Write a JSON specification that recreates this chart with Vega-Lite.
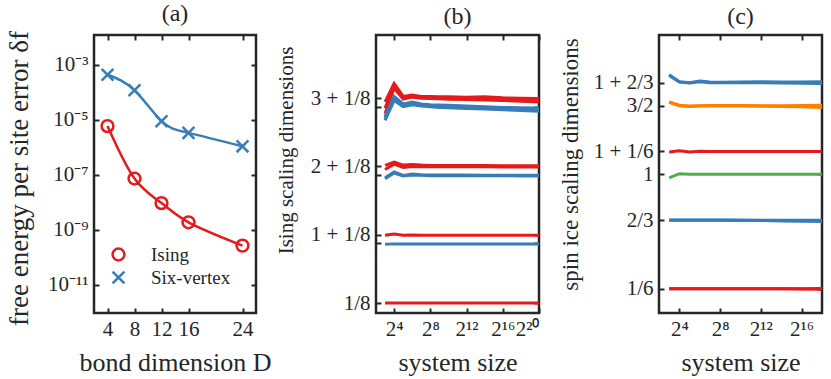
{
  "$schema": "https://vega.github.io/schema/vega-lite/v6.json",
  "padding": {"left": 4, "top": 0, "right": 0, "bottom": 0},
  "background": "white",
  "datasets": {
    "fe": [
      {"model": "Ising", "D": 4, "err": 6.0e-6},
      {"model": "Ising", "D": 8, "err": 7.4e-8},
      {"model": "Ising", "D": 12, "err": 9.5e-9},
      {"model": "Ising", "D": 16, "err": 1.9e-9},
      {"model": "Ising", "D": 24, "err": 2.7e-10},
      {"model": "Six-vertex", "D": 4, "err": 4.4e-4},
      {"model": "Six-vertex", "D": 8, "err": 1.2e-4},
      {"model": "Six-vertex", "D": 12, "err": 9.0e-6},
      {"model": "Six-vertex", "D": 16, "err": 3.4e-6},
      {"model": "Six-vertex", "D": 24, "err": 1.1e-6}
    ],
    "ising": [
      {"s":"r3a","c":"r","L":8,"v":3.07},{"s":"r3a","c":"r","L":16,"v":3.34},{"s":"r3a","c":"r","L":32,"v":3.15},{"s":"r3a","c":"r","L":64,"v":3.17},{"s":"r3a","c":"r","L":128,"v":3.15},{"s":"r3a","c":"r","L":256,"v":3.15},{"s":"r3a","c":"r","L":512,"v":3.145},{"s":"r3a","c":"r","L":1024,"v":3.145},{"s":"r3a","c":"r","L":4096,"v":3.14},{"s":"r3a","c":"r","L":16384,"v":3.145},{"s":"r3a","c":"r","L":65536,"v":3.13},{"s":"r3a","c":"r","L":262144,"v":3.125},{"s":"r3a","c":"r","L":1048576,"v":3.12},
      {"s":"r3b","c":"r","L":8,"v":2.98},{"s":"r3b","c":"r","L":16,"v":3.30},{"s":"r3b","c":"r","L":32,"v":3.13},{"s":"r3b","c":"r","L":64,"v":3.155},{"s":"r3b","c":"r","L":128,"v":3.14},{"s":"r3b","c":"r","L":256,"v":3.135},{"s":"r3b","c":"r","L":512,"v":3.13},{"s":"r3b","c":"r","L":1024,"v":3.13},{"s":"r3b","c":"r","L":4096,"v":3.125},{"s":"r3b","c":"r","L":16384,"v":3.12},{"s":"r3b","c":"r","L":65536,"v":3.11},{"s":"r3b","c":"r","L":262144,"v":3.10},{"s":"r3b","c":"r","L":1048576,"v":3.095},
      {"s":"r3c","c":"r","L":8,"v":2.90},{"s":"r3c","c":"r","L":16,"v":3.27},{"s":"r3c","c":"r","L":32,"v":3.11},{"s":"r3c","c":"r","L":64,"v":3.14},{"s":"r3c","c":"r","L":128,"v":3.125},{"s":"r3c","c":"r","L":256,"v":3.12},{"s":"r3c","c":"r","L":512,"v":3.115},{"s":"r3c","c":"r","L":1024,"v":3.11},{"s":"r3c","c":"r","L":4096,"v":3.105},{"s":"r3c","c":"r","L":16384,"v":3.10},{"s":"r3c","c":"r","L":65536,"v":3.09},{"s":"r3c","c":"r","L":262144,"v":3.08},{"s":"r3c","c":"r","L":1048576,"v":3.07},
      {"s":"b3a","c":"b","L":8,"v":2.86},{"s":"b3a","c":"b","L":16,"v":3.15},{"s":"b3a","c":"b","L":32,"v":3.04},{"s":"b3a","c":"b","L":64,"v":3.07},{"s":"b3a","c":"b","L":128,"v":3.04},{"s":"b3a","c":"b","L":256,"v":3.03},{"s":"b3a","c":"b","L":512,"v":3.025},{"s":"b3a","c":"b","L":1024,"v":3.02},{"s":"b3a","c":"b","L":4096,"v":3.01},{"s":"b3a","c":"b","L":16384,"v":3.0},{"s":"b3a","c":"b","L":65536,"v":2.99},{"s":"b3a","c":"b","L":262144,"v":2.985},{"s":"b3a","c":"b","L":1048576,"v":2.98},
      {"s":"b3b","c":"b","L":8,"v":2.83},{"s":"b3b","c":"b","L":16,"v":3.12},{"s":"b3b","c":"b","L":32,"v":3.02},{"s":"b3b","c":"b","L":64,"v":3.05},{"s":"b3b","c":"b","L":128,"v":3.025},{"s":"b3b","c":"b","L":256,"v":3.015},{"s":"b3b","c":"b","L":512,"v":3.01},{"s":"b3b","c":"b","L":1024,"v":3.0},{"s":"b3b","c":"b","L":4096,"v":2.99},{"s":"b3b","c":"b","L":16384,"v":2.98},{"s":"b3b","c":"b","L":65536,"v":2.97},{"s":"b3b","c":"b","L":262144,"v":2.965},{"s":"b3b","c":"b","L":1048576,"v":2.955},
      {"s":"b3c","c":"b","L":8,"v":2.80},{"s":"b3c","c":"b","L":16,"v":3.09},{"s":"b3c","c":"b","L":32,"v":3.0},{"s":"b3c","c":"b","L":64,"v":3.03},{"s":"b3c","c":"b","L":128,"v":3.01},{"s":"b3c","c":"b","L":256,"v":3.0},{"s":"b3c","c":"b","L":512,"v":2.99},{"s":"b3c","c":"b","L":1024,"v":2.985},{"s":"b3c","c":"b","L":4096,"v":2.975},{"s":"b3c","c":"b","L":16384,"v":2.965},{"s":"b3c","c":"b","L":65536,"v":2.955},{"s":"b3c","c":"b","L":262144,"v":2.945},{"s":"b3c","c":"b","L":1048576,"v":2.935},
      {"s":"r2a","c":"r","L":8,"v":2.14},{"s":"r2a","c":"r","L":16,"v":2.19},{"s":"r2a","c":"r","L":32,"v":2.145},{"s":"r2a","c":"r","L":64,"v":2.155},{"s":"r2a","c":"r","L":128,"v":2.145},{"s":"r2a","c":"r","L":256,"v":2.14},{"s":"r2a","c":"r","L":512,"v":2.14},{"s":"r2a","c":"r","L":1024,"v":2.14},{"s":"r2a","c":"r","L":4096,"v":2.138},{"s":"r2a","c":"r","L":16384,"v":2.138},{"s":"r2a","c":"r","L":65536,"v":2.136},{"s":"r2a","c":"r","L":262144,"v":2.135},{"s":"r2a","c":"r","L":1048576,"v":2.135},
      {"s":"r2b","c":"r","L":8,"v":2.08},{"s":"r2b","c":"r","L":16,"v":2.16},{"s":"r2b","c":"r","L":32,"v":2.11},{"s":"r2b","c":"r","L":64,"v":2.125},{"s":"r2b","c":"r","L":128,"v":2.12},{"s":"r2b","c":"r","L":256,"v":2.12},{"s":"r2b","c":"r","L":512,"v":2.12},{"s":"r2b","c":"r","L":1024,"v":2.12},{"s":"r2b","c":"r","L":4096,"v":2.12},{"s":"r2b","c":"r","L":16384,"v":2.12},{"s":"r2b","c":"r","L":65536,"v":2.118},{"s":"r2b","c":"r","L":262144,"v":2.118},{"s":"r2b","c":"r","L":1048576,"v":2.116},
      {"s":"b2a","c":"b","L":8,"v":1.96},{"s":"b2a","c":"b","L":16,"v":2.045},{"s":"b2a","c":"b","L":32,"v":1.995},{"s":"b2a","c":"b","L":64,"v":2.015},{"s":"b2a","c":"b","L":128,"v":2.005},{"s":"b2a","c":"b","L":256,"v":2.0},{"s":"b2a","c":"b","L":512,"v":2.0},{"s":"b2a","c":"b","L":1024,"v":2.0},{"s":"b2a","c":"b","L":4096,"v":2.0},{"s":"b2a","c":"b","L":16384,"v":1.998},{"s":"b2a","c":"b","L":65536,"v":1.998},{"s":"b2a","c":"b","L":262144,"v":1.997},{"s":"b2a","c":"b","L":1048576,"v":1.996},
      {"s":"b2b","c":"b","L":8,"v":1.945},{"s":"b2b","c":"b","L":16,"v":2.03},{"s":"b2b","c":"b","L":32,"v":1.985},{"s":"b2b","c":"b","L":64,"v":2.0},{"s":"b2b","c":"b","L":128,"v":1.995},{"s":"b2b","c":"b","L":256,"v":1.99},{"s":"b2b","c":"b","L":512,"v":1.99},{"s":"b2b","c":"b","L":1024,"v":1.99},{"s":"b2b","c":"b","L":4096,"v":1.99},{"s":"b2b","c":"b","L":16384,"v":1.99},{"s":"b2b","c":"b","L":65536,"v":1.988},{"s":"b2b","c":"b","L":262144,"v":1.987},{"s":"b2b","c":"b","L":1048576,"v":1.986},
      {"s":"r1","c":"r","L":8,"v":1.118},{"s":"r1","c":"r","L":16,"v":1.135},{"s":"r1","c":"r","L":32,"v":1.12},{"s":"r1","c":"r","L":64,"v":1.123},{"s":"r1","c":"r","L":128,"v":1.12},{"s":"r1","c":"r","L":256,"v":1.12},{"s":"r1","c":"r","L":512,"v":1.12},{"s":"r1","c":"r","L":1024,"v":1.12},{"s":"r1","c":"r","L":4096,"v":1.12},{"s":"r1","c":"r","L":16384,"v":1.12},{"s":"r1","c":"r","L":65536,"v":1.12},{"s":"r1","c":"r","L":262144,"v":1.12},{"s":"r1","c":"r","L":1048576,"v":1.12},
      {"s":"b1","c":"b","L":8,"v":0.985},{"s":"b1","c":"b","L":16,"v":0.992},{"s":"b1","c":"b","L":32,"v":0.99},{"s":"b1","c":"b","L":64,"v":0.99},{"s":"b1","c":"b","L":128,"v":0.99},{"s":"b1","c":"b","L":256,"v":0.99},{"s":"b1","c":"b","L":512,"v":0.99},{"s":"b1","c":"b","L":1024,"v":0.99},{"s":"b1","c":"b","L":4096,"v":0.99},{"s":"b1","c":"b","L":16384,"v":0.99},{"s":"b1","c":"b","L":65536,"v":0.99},{"s":"b1","c":"b","L":262144,"v":0.99},{"s":"b1","c":"b","L":1048576,"v":0.99},
      {"s":"r0","c":"r","L":8,"v":0.125},{"s":"r0","c":"r","L":16,"v":0.125},{"s":"r0","c":"r","L":32,"v":0.125},{"s":"r0","c":"r","L":64,"v":0.125},{"s":"r0","c":"r","L":128,"v":0.125},{"s":"r0","c":"r","L":256,"v":0.125},{"s":"r0","c":"r","L":512,"v":0.125},{"s":"r0","c":"r","L":1024,"v":0.125},{"s":"r0","c":"r","L":4096,"v":0.125},{"s":"r0","c":"r","L":16384,"v":0.125},{"s":"r0","c":"r","L":65536,"v":0.125},{"s":"r0","c":"r","L":262144,"v":0.126},{"s":"r0","c":"r","L":1048576,"v":0.127}
    ],
    "ice": [
      {"s":"b5a","c":"b","L":8,"v":1.725},{"s":"b5a","c":"b","L":16,"v":1.675},{"s":"b5a","c":"b","L":32,"v":1.668},{"s":"b5a","c":"b","L":64,"v":1.68},{"s":"b5a","c":"b","L":128,"v":1.672},{"s":"b5a","c":"b","L":256,"v":1.671},{"s":"b5a","c":"b","L":1024,"v":1.673},{"s":"b5a","c":"b","L":4096,"v":1.674},{"s":"b5a","c":"b","L":16384,"v":1.672},{"s":"b5a","c":"b","L":65536,"v":1.672},{"s":"b5a","c":"b","L":262144,"v":1.674},
      {"s":"b5b","c":"b","L":8,"v":1.72},{"s":"b5b","c":"b","L":16,"v":1.672},{"s":"b5b","c":"b","L":32,"v":1.665},{"s":"b5b","c":"b","L":64,"v":1.675},{"s":"b5b","c":"b","L":128,"v":1.668},{"s":"b5b","c":"b","L":256,"v":1.667},{"s":"b5b","c":"b","L":1024,"v":1.668},{"s":"b5b","c":"b","L":4096,"v":1.668},{"s":"b5b","c":"b","L":16384,"v":1.666},{"s":"b5b","c":"b","L":65536,"v":1.664},{"s":"b5b","c":"b","L":262144,"v":1.661},
      {"s":"o3a","c":"o","L":8,"v":1.527},{"s":"o3a","c":"o","L":16,"v":1.503},{"s":"o3a","c":"o","L":32,"v":1.498},{"s":"o3a","c":"o","L":64,"v":1.5},{"s":"o3a","c":"o","L":128,"v":1.502},{"s":"o3a","c":"o","L":256,"v":1.502},{"s":"o3a","c":"o","L":1024,"v":1.502},{"s":"o3a","c":"o","L":4096,"v":1.5},{"s":"o3a","c":"o","L":16384,"v":1.5},{"s":"o3a","c":"o","L":65536,"v":1.501},{"s":"o3a","c":"o","L":262144,"v":1.504},
      {"s":"o3b","c":"o","L":8,"v":1.524},{"s":"o3b","c":"o","L":16,"v":1.5},{"s":"o3b","c":"o","L":32,"v":1.495},{"s":"o3b","c":"o","L":64,"v":1.497},{"s":"o3b","c":"o","L":128,"v":1.498},{"s":"o3b","c":"o","L":256,"v":1.498},{"s":"o3b","c":"o","L":1024,"v":1.497},{"s":"o3b","c":"o","L":4096,"v":1.496},{"s":"o3b","c":"o","L":16384,"v":1.495},{"s":"o3b","c":"o","L":65536,"v":1.492},{"s":"o3b","c":"o","L":262144,"v":1.487},
      {"s":"r7","c":"r","L":8,"v":1.163},{"s":"r7","c":"r","L":16,"v":1.172},{"s":"r7","c":"r","L":32,"v":1.163},{"s":"r7","c":"r","L":64,"v":1.168},{"s":"r7","c":"r","L":128,"v":1.167},{"s":"r7","c":"r","L":256,"v":1.167},{"s":"r7","c":"r","L":1024,"v":1.167},{"s":"r7","c":"r","L":4096,"v":1.167},{"s":"r7","c":"r","L":16384,"v":1.167},{"s":"r7","c":"r","L":65536,"v":1.167},{"s":"r7","c":"r","L":262144,"v":1.167},
      {"s":"g1","c":"g","L":8,"v":0.975},{"s":"g1","c":"g","L":16,"v":1.005},{"s":"g1","c":"g","L":32,"v":1.0},{"s":"g1","c":"g","L":64,"v":1.0},{"s":"g1","c":"g","L":128,"v":1.0},{"s":"g1","c":"g","L":256,"v":1.0},{"s":"g1","c":"g","L":1024,"v":1.0},{"s":"g1","c":"g","L":4096,"v":1.0},{"s":"g1","c":"g","L":16384,"v":1.0},{"s":"g1","c":"g","L":65536,"v":1.0},{"s":"g1","c":"g","L":262144,"v":1.0},
      {"s":"b2a","c":"b","L":8,"v":0.668},{"s":"b2a","c":"b","L":16,"v":0.667},{"s":"b2a","c":"b","L":32,"v":0.667},{"s":"b2a","c":"b","L":64,"v":0.667},{"s":"b2a","c":"b","L":128,"v":0.667},{"s":"b2a","c":"b","L":256,"v":0.667},{"s":"b2a","c":"b","L":1024,"v":0.667},{"s":"b2a","c":"b","L":4096,"v":0.666},{"s":"b2a","c":"b","L":16384,"v":0.665},{"s":"b2a","c":"b","L":65536,"v":0.665},{"s":"b2a","c":"b","L":262144,"v":0.665},
      {"s":"b2b","c":"b","L":8,"v":0.666},{"s":"b2b","c":"b","L":16,"v":0.665},{"s":"b2b","c":"b","L":32,"v":0.665},{"s":"b2b","c":"b","L":64,"v":0.665},{"s":"b2b","c":"b","L":128,"v":0.665},{"s":"b2b","c":"b","L":256,"v":0.665},{"s":"b2b","c":"b","L":1024,"v":0.664},{"s":"b2b","c":"b","L":4096,"v":0.663},{"s":"b2b","c":"b","L":16384,"v":0.661},{"s":"b2b","c":"b","L":65536,"v":0.659},{"s":"b2b","c":"b","L":262144,"v":0.657},
      {"s":"r1a","c":"r","L":8,"v":0.1667},{"s":"r1a","c":"r","L":16,"v":0.1667},{"s":"r1a","c":"r","L":32,"v":0.1667},{"s":"r1a","c":"r","L":64,"v":0.1667},{"s":"r1a","c":"r","L":128,"v":0.1667},{"s":"r1a","c":"r","L":256,"v":0.1667},{"s":"r1a","c":"r","L":1024,"v":0.1667},{"s":"r1a","c":"r","L":4096,"v":0.1667},{"s":"r1a","c":"r","L":16384,"v":0.1667},{"s":"r1a","c":"r","L":65536,"v":0.1667},{"s":"r1a","c":"r","L":262144,"v":0.168},
      {"s":"r1b","c":"r","L":8,"v":0.1667},{"s":"r1b","c":"r","L":16,"v":0.1667},{"s":"r1b","c":"r","L":32,"v":0.1667},{"s":"r1b","c":"r","L":64,"v":0.1667},{"s":"r1b","c":"r","L":128,"v":0.1667},{"s":"r1b","c":"r","L":256,"v":0.1667},{"s":"r1b","c":"r","L":1024,"v":0.1665},{"s":"r1b","c":"r","L":4096,"v":0.1665},{"s":"r1b","c":"r","L":16384,"v":0.166},{"s":"r1b","c":"r","L":65536,"v":0.165},{"s":"r1b","c":"r","L":262144,"v":0.163}
    ]
  },
  "hconcat": [
    {
      "width": 162, "height": 278,
      "title": {"text": "(a)"},
      "data": {"name": "fe"},
      "layer": [
        {
          "mark": {"type": "line", "interpolate": "natural", "strokeWidth": 2.5},
          "encoding": {
            "x": {"field": "D", "type": "quantitative", "scale": {"domain": [2, 26], "nice": false, "zero": false},
                  "axis": {"values": [4, 8, 12, 16, 24], "title": "bond dimension D", "orient": "bottom", "titleFont": "Liberation Serif"}},
            "y": {"field": "err", "type": "quantitative", "scale": {"type": "log", "domain": [9.55e-13, 1.23e-2], "nice": false},
                  "axis": {"values": [1e-11, 1e-9, 1e-7, 1e-5, 1e-3], "orient": "left", "titleFontSize": 27, "titlePadding": 14, "labelPadding": 11, "titleFont": "Liberation Serif", "title": "free energy per site error δf", "titleY": 143,
                           "labelExpr": "datum.value < 1e-10 ? '10⁻¹¹' : datum.value < 1e-8 ? '10⁻⁹' : datum.value < 1e-6 ? '10⁻⁷' : datum.value < 1e-4 ? '10⁻⁵' : '10⁻³'"}},
            "stroke": {"field": "model", "type": "nominal", "scale": {"domain": ["Ising", "Six-vertex"], "range": ["#e41a1c", "#377eb8"]}, "legend": null}
          }
        },
        {
          "mark": {"type": "point", "filled": false, "strokeWidth": 2.5, "size": 140, "opacity": 1},
          "encoding": {
            "x": {"field": "D", "type": "quantitative", "axis": {"orient": "top", "values": [4, 8, 12, 16, 24], "labels": false, "title": null, "minExtent": 0, "maxExtent": 0}},
            "y": {"field": "err", "type": "quantitative", "axis": {"orient": "right", "values": [1e-11, 1e-9, 1e-7, 1e-5, 1e-3], "labels": false, "title": null, "minExtent": 0, "maxExtent": 0}},
            "color": {"field": "model", "type": "nominal", "scale": {"domain": ["Ising", "Six-vertex"], "range": ["#e41a1c", "#377eb8"]},
                      "legend": {"orient": "none", "legendX": 15, "legendY": 210, "title": null, "labelFontSize": 19, "symbolSize": 140, "symbolStrokeWidth": 2.5, "rowPadding": 0, "labelOffset": 23}},
            "shape": {"field": "model", "type": "nominal", "scale": {"domain": ["Ising", "Six-vertex"], "range": ["circle", "M-1,-1L1,1M1,-1L-1,1"]},
                      "legend": {"orient": "none", "legendX": 15, "legendY": 210, "title": null, "labelFontSize": 19, "symbolSize": 140, "symbolStrokeWidth": 2.5, "rowPadding": 0, "labelOffset": 23}}
          }
        }
      ],
      "resolve": {"axis": {"x": "independent", "y": "independent"}}
    },
    {
      "width": 163, "height": 278,
      "title": {"text": "(b)"},
      "data": {"name": "ising"},
      "layer": [
        {
          "transform": [{"filter": "datum.c == 'r'"}],
          "mark": {"type": "line", "strokeWidth": 3},
          "encoding": {
            "x": {"field": "L", "type": "quantitative", "scale": {"type": "log", "base": 2, "domain": [4, 1048576], "nice": false},
                  "axis": {"values": [16, 256, 4096, 65536, 1048576], "title": "system size", "orient": "bottom", "titleFont": "Liberation Serif",
                           "labelExpr": "datum.value == 16 ? '2⁴' : datum.value == 256 ? '2⁸' : datum.value == 4096 ? '2¹²' : datum.value == 65536 ? '2¹⁶' : '2²⁰'"}},
            "y": {"field": "v", "type": "quantitative", "scale": {"domain": [-0.02, 4.05], "nice": false, "zero": false},
                  "axis": {"values": [0.125, 1, 1.125, 2, 2.125, 3, 3.125], "orient": "left", "title": "Ising scaling dimensions", "titleFontSize": 21, "titlePadding": 14, "labelPadding": 11, "titleFont": "Liberation Serif", "titleY": 115,
                           "labelExpr": "datum.value == 0.125 ? '1/8' : datum.value == 1.125 ? '1 + 1/8' : datum.value == 2.125 ? '2 + 1/8' : datum.value == 3.125 ? '3 + 1/8' : ''"}},
            "stroke": {"field": "c", "type": "nominal", "scale": {"domain": ["r", "b"], "range": ["#e41a1c", "#377eb8"]}, "legend": null},
            "detail": {"field": "s"}
          }
        },
        {
          "transform": [{"filter": "datum.c == 'b'"}],
          "mark": {"type": "line", "strokeWidth": 3},
          "encoding": {
            "x": {"field": "L", "type": "quantitative", "axis": {"orient": "top", "values": [16, 256, 4096, 65536, 1048576], "labels": false, "title": null, "minExtent": 0, "maxExtent": 0}},
            "y": {"field": "v", "type": "quantitative", "axis": {"orient": "right", "values": [0.125, 1, 1.125, 2, 2.125, 3, 3.125], "labels": false, "title": null, "minExtent": 0, "maxExtent": 0}},
            "stroke": {"field": "c", "type": "nominal", "scale": {"domain": ["r", "b"], "range": ["#e41a1c", "#377eb8"]}, "legend": null},
            "detail": {"field": "s"}
          }
        }
      ],
      "resolve": {"axis": {"x": "independent", "y": "independent"}}
    },
    {
      "width": 163, "height": 278,
      "title": {"text": "(c)"},
      "data": {"name": "ice"},
      "layer": [
        {
          "transform": [{"filter": "datum.c == 'r' || datum.c == 'g'"}],
          "mark": {"type": "line", "strokeWidth": 3},
          "encoding": {
            "x": {"field": "L", "type": "quantitative", "scale": {"type": "log", "base": 2, "domain": [4, 262144], "nice": false},
                  "axis": {"values": [16, 256, 4096, 65536], "title": "system size", "orient": "bottom", "titleFont": "Liberation Serif",
                           "labelExpr": "datum.value == 16 ? '2⁴' : datum.value == 256 ? '2⁸' : datum.value == 4096 ? '2¹²' : '2¹⁶'"}},
            "y": {"field": "v", "type": "quantitative", "scale": {"domain": [-0.01, 2.015], "nice": false, "zero": false},
                  "axis": {"values": [0.16667, 0.66667, 1, 1.16667, 1.5, 1.66667], "orient": "left", "title": "spin ice scaling dimensions", "titleFontSize": 23, "titlePadding": 11, "labelPadding": 11, "titleFont": "Liberation Serif", "titleY": 129,
                           "labelExpr": "datum.value < 0.2 ? '1/6' : datum.value < 0.7 ? '2/3' : datum.value < 1.1 ? '1' : datum.value < 1.2 ? '1 + 1/6' : datum.value < 1.6 ? '3/2' : '1 + 2/3'"}},
            "stroke": {"field": "c", "type": "nominal", "scale": {"domain": ["r", "b", "o", "g"], "range": ["#e41a1c", "#377eb8", "#ff7f00", "#4daf4a"]}, "legend": null},
            "detail": {"field": "s"}
          }
        },
        {
          "transform": [{"filter": "datum.c == 'b' || datum.c == 'o'"}],
          "mark": {"type": "line", "strokeWidth": 3},
          "encoding": {
            "x": {"field": "L", "type": "quantitative", "axis": {"orient": "top", "values": [16, 256, 4096, 65536], "labels": false, "title": null, "minExtent": 0, "maxExtent": 0}},
            "y": {"field": "v", "type": "quantitative", "axis": {"orient": "right", "values": [0.16667, 0.66667, 1, 1.16667, 1.5, 1.66667], "labels": false, "title": null, "minExtent": 0, "maxExtent": 0}},
            "stroke": {"field": "c", "type": "nominal", "scale": {"domain": ["r", "b", "o", "g"], "range": ["#e41a1c", "#377eb8", "#ff7f00", "#4daf4a"]}, "legend": null},
            "detail": {"field": "s"}
          }
        }
      ],
      "resolve": {"axis": {"x": "independent", "y": "independent"}}
    }
  ],
  "resolve": {"scale": {"stroke": "independent"}},
  "spacing": 120,
  "bounds": "flush",
  "config": {
    "font": "Liberation Serif",
    "view": {"stroke": "#262626", "strokeWidth": 2.5},
    "style": {"guide-title": {"font": "Liberation Serif"}, "guide-label": {"font": "Liberation Serif"}},
    "axis": {
      "domain": false, "grid": false,
      "tickColor": "#262626", "tickSize": -5, "tickWidth": 2,
      "labelFont": "Liberation Serif", "labelFontSize": 21, "labelColor": "#262626", "labelPadding": 10,
      "titleFont": "Liberation Serif", "titleFontSize": 26, "titleFontWeight": "normal", "titleColor": "#262626", "titlePadding": 10
    },
    "legend": {"labelFont": "Liberation Serif", "labelFontSize": 19, "labelColor": "#262626"},
    "title": {"font": "Liberation Serif", "fontSize": 24, "fontWeight": "normal", "color": "#262626", "offset": 5}
  }
}
